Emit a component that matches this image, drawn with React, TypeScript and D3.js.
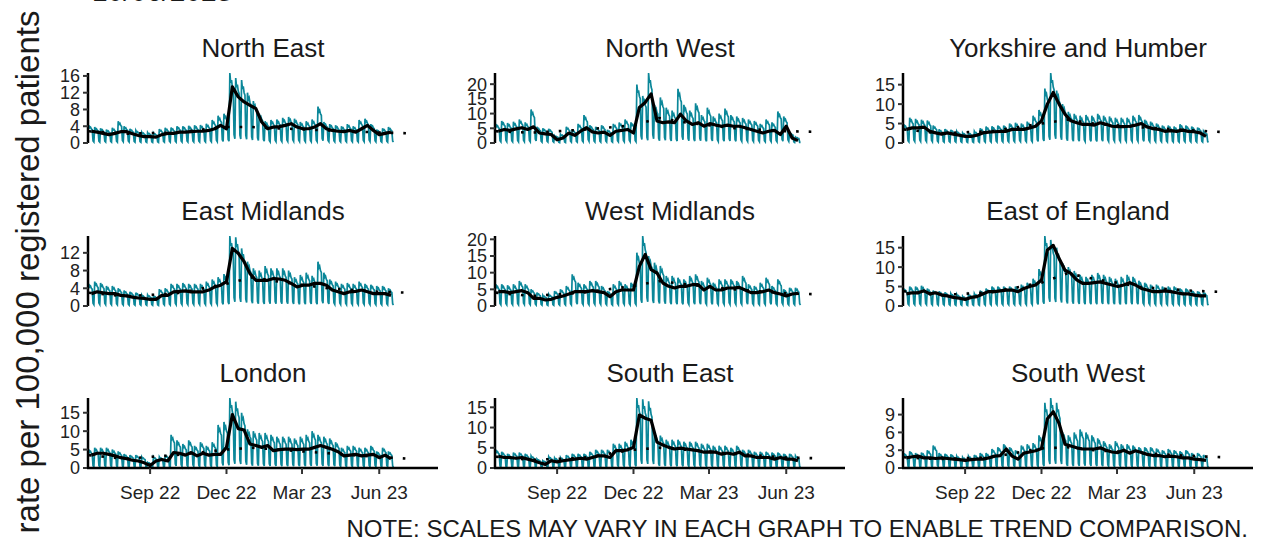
import React from 'react';
import * as d3 from 'd3';

// weekly series, weeks start Monday 20 Jun 2022 (52 weeks)
const REGIONS = [
  'North East', 'North West', 'Yorkshire and Humber',
  'East Midlands', 'West Midlands', 'East of England',
  'London', 'South East', 'South West',
];

// weekday peak of the daily rate per week
const NE_DAILY = [4.2,3.8,3.5,3.2,3.6,5.2,4.0,3.4,3.0,2.6,2.5,2.4,3.3,3.6,3.7,4.0,4.0,4.1,4.2,4.3,4.6,5.5,6.5,7.0,16.7,15.5,15.0,12.0,10.0,7.0,5.2,5.5,5.6,6.0,6.2,5.8,5.0,5.2,5.6,8.7,5.0,4.5,4.2,4.0,4.5,4.0,5.5,5.8,4.5,3.2,3.5,3.8];
const NW_DAILY = [6.5,7.5,6.8,7.2,8.0,7.0,11.4,5.5,5.0,4.8,2.5,3.0,5.5,4.5,6.5,9.5,6.0,5.5,6.0,4.5,6.5,7.0,8.0,7.0,19.9,16.0,23.8,13.0,15.5,12.0,11.0,18.4,13.0,11.0,13.5,9.5,12.0,9.0,10.0,11.7,9.5,9.0,8.5,8.0,7.5,6.5,8.0,7.0,10.7,9.0,3.5,2.0];
const YH_DAILY = [4.8,6.5,6.2,6.0,5.8,4.5,3.5,3.6,3.4,3.0,2.6,2.6,3.0,3.8,4.2,4.3,4.5,4.5,5.0,5.2,5.0,5.5,7.0,8.5,14.0,18.0,13.5,10.0,8.0,7.5,7.0,7.2,7.0,7.5,7.0,6.8,6.5,6.5,6.5,7.0,7.2,6.0,5.5,5.0,4.5,4.5,4.2,4.8,4.5,4.2,4.0,3.0];
const EM_DAILY = [5.0,5.5,5.2,4.5,4.5,4.0,3.5,3.2,3.0,2.5,2.5,2.3,3.8,4.0,5.0,5.0,5.2,5.0,5.0,5.0,5.5,6.0,6.5,7.2,15.8,15.5,13.0,10.0,8.5,8.0,9.0,8.5,8.5,8.5,8.0,6.5,7.0,7.5,6.8,10.0,7.5,6.0,5.5,5.0,5.2,5.0,5.5,5.0,4.8,4.5,4.5,4.0];
const WM_DAILY = [6.5,6.5,6.2,6.5,7.5,6.5,5.0,4.0,3.2,3.5,4.5,5.0,6.0,9.5,7.0,6.5,7.5,7.5,6.0,4.5,6.5,7.5,6.5,7.0,16.0,21.0,15.0,13.0,12.0,9.0,9.0,8.5,8.0,9.0,9.5,7.5,8.5,7.0,8.0,8.0,8.0,7.5,9.0,6.5,6.0,7.0,8.5,6.0,8.0,5.0,5.5,5.5];
const EE_DAILY = [4.5,5.0,5.0,5.2,4.5,4.0,3.8,3.5,3.2,3.0,2.5,3.0,3.2,4.0,4.5,5.0,5.0,5.0,5.0,5.0,5.5,6.0,7.0,9.5,18.0,17.0,15.0,11.0,10.0,9.0,8.0,7.5,8.0,8.5,8.0,7.5,7.0,7.5,8.0,7.5,6.5,6.0,5.5,5.5,5.0,5.0,5.0,4.5,4.5,4.0,3.8,3.5];
const LO_DAILY = [5.0,5.5,5.5,5.5,5.0,4.5,3.8,3.5,3.5,3.0,1.5,3.0,3.0,3.5,9.0,7.5,6.5,7.5,6.0,7.0,6.0,7.0,11.7,12.5,19.0,18.0,15.0,10.5,10.0,9.5,9.5,9.0,8.5,8.5,8.5,8.0,8.5,9.0,10.0,9.0,8.5,8.0,7.0,5.5,6.0,6.0,5.5,5.5,6.0,4.5,5.5,4.5];
const SE_DAILY = [4.5,4.0,3.5,3.8,3.8,3.5,3.0,2.2,1.8,2.8,2.5,2.6,3.2,3.5,3.5,3.5,4.0,4.5,4.5,4.5,6.0,6.0,6.5,7.0,17.3,17.0,16.5,8.5,8.0,7.0,7.0,7.0,6.5,6.5,6.5,6.0,6.0,5.5,5.5,5.5,5.0,5.5,4.5,4.5,4.0,4.0,4.0,3.8,3.8,3.5,3.5,3.0];
const SW_DAILY = [2.5,2.8,2.5,2.6,3.0,3.8,2.5,2.4,2.3,2.0,1.8,2.0,2.2,2.5,2.5,3.2,3.5,4.0,3.5,3.0,3.8,4.0,4.2,5.5,11.0,11.8,11.0,6.0,5.5,6.0,6.5,6.0,5.5,5.0,4.5,4.0,4.5,4.0,4.0,3.8,3.5,3.5,3.5,3.3,3.0,3.2,3.0,2.8,3.0,2.5,2.5,2.2];

// 7 day rolling average, one value per week
const NE_AVG = [2.8,2.6,2.3,2.0,2.3,2.7,2.7,2.2,1.8,1.5,1.5,1.4,2.0,2.3,2.3,2.6,2.6,2.7,2.8,2.8,3.0,3.4,4.2,3.4,13.4,11.0,9.8,9.0,8.2,5.0,3.4,3.8,3.9,4.2,4.6,3.8,3.4,3.4,3.8,4.6,3.4,3.0,2.8,2.7,3.0,2.6,3.4,4.2,3.0,2.0,2.3,2.6];
const NW_AVG = [4.0,4.6,4.3,4.8,5.2,4.6,5.5,3.4,3.1,2.9,1.1,1.7,3.4,2.6,4.0,5.2,3.8,3.4,3.7,2.6,4.0,4.3,4.6,3.4,12.1,13.8,16.7,7.5,6.9,7.2,6.9,9.8,7.5,6.3,6.9,5.7,6.6,6.1,5.7,6.1,5.7,5.7,5.2,4.6,4.0,3.4,4.0,4.3,2.9,5.7,1.7,0.8];
const YH_AVG = [3.5,3.9,3.9,4.1,3.0,2.6,2.3,2.6,2.3,2.0,1.7,1.7,2.0,2.6,2.8,2.9,3.0,3.0,3.5,3.5,3.5,3.9,4.3,5.7,10.0,13.0,10.0,7.4,5.7,5.2,4.8,4.8,4.6,5.2,4.8,4.3,4.2,4.2,4.3,4.6,5.0,4.1,3.7,3.5,3.0,3.2,3.0,3.3,3.0,2.9,2.6,1.7];
const EM_AVG = [2.8,3.2,3.0,2.8,2.8,2.4,2.3,2.0,1.8,1.7,1.5,1.5,2.4,2.4,3.2,3.3,3.4,3.2,3.2,3.2,3.6,4.3,4.7,5.5,13.0,11.9,10.0,7.3,5.8,5.8,5.8,6.2,6.1,5.8,5.1,4.3,4.7,4.7,5.1,5.1,4.7,3.6,3.2,2.8,3.2,3.3,3.6,3.2,2.8,2.8,2.8,2.4];
const WM_AVG = [4.3,4.3,4.0,4.3,4.6,4.0,2.3,2.3,1.8,2.0,2.6,3.0,3.6,4.3,4.3,4.3,4.6,4.3,4.0,2.8,4.3,4.8,4.8,4.8,11.9,15.5,10.9,9.9,6.9,5.9,5.4,5.9,5.9,6.4,6.4,4.8,5.9,4.8,4.8,5.4,5.4,5.6,4.8,4.0,4.0,4.3,4.8,4.0,3.6,3.0,3.6,3.8];
const EE_AVG = [3.1,3.4,3.4,3.9,3.1,3.4,2.8,2.6,2.2,2.0,1.7,2.2,2.4,3.1,3.7,3.7,3.9,4.1,4.1,3.7,4.5,5.0,5.4,6.7,14.4,15.6,12.2,9.2,8.4,6.7,5.8,5.8,6.0,6.2,5.8,5.4,5.0,5.4,6.0,5.4,4.5,4.1,3.7,3.7,3.9,3.7,3.4,3.1,3.1,2.8,2.6,2.6];
const LO_AVG = [3.5,4.0,4.0,3.7,3.3,2.8,2.5,2.1,1.9,1.4,0.7,1.9,2.3,1.9,4.2,4.0,3.5,4.2,3.3,4.0,3.5,3.7,3.7,5.6,14.5,10.7,10.3,6.5,6.1,5.6,6.1,4.7,5.0,5.1,5.1,5.0,5.1,5.1,5.6,6.1,5.6,5.1,4.4,3.3,3.5,3.7,3.3,3.5,3.7,2.8,3.5,2.5];
const SE_AVG = [2.9,2.6,2.6,2.4,2.6,2.2,1.8,1.3,0.9,1.8,1.5,1.8,2.0,2.2,2.4,2.2,2.6,3.0,3.0,2.6,4.3,4.3,4.5,5.1,13.1,12.3,11.8,6.4,5.7,5.1,4.7,4.9,4.7,4.5,4.3,3.9,4.0,3.9,3.4,3.7,3.4,3.9,3.0,3.0,2.6,2.6,2.6,2.2,2.6,2.2,2.2,1.8];
const SW_AVG = [1.7,1.9,2.0,1.7,1.7,1.6,1.7,1.6,1.5,1.4,1.3,1.4,1.5,1.5,1.7,2.0,2.1,3.2,2.0,1.5,2.5,2.7,2.9,3.3,8.3,9.5,7.5,4.0,3.7,3.4,3.2,3.2,3.2,3.4,3.0,2.7,2.6,3.0,2.5,2.9,2.6,2.3,2.1,2.1,1.9,2.0,1.9,1.7,1.7,1.5,1.4,1.3];

// dotted comparison line
const BASE_DATES = ['2022-06-20', '2022-08-01', '2022-10-01', '2022-12-01', '2023-01-01', '2023-02-01', '2023-04-01', '2023-06-01', '2023-07-08'];
const NE_BASE = [2.8, 2.2, 2.5, 3.8, 3.8, 3.5, 3.0, 2.5, 2.3];
const NW_BASE = [4.0, 3.5, 4.5, 6.0, 8.5, 7.0, 5.0, 4.0, 3.8];
const YH_BASE = [3.5, 2.5, 3.0, 5.0, 6.0, 5.0, 4.0, 3.2, 2.8];
const EM_BASE = [3.0, 2.2, 2.8, 5.0, 6.5, 5.5, 4.0, 3.2, 3.0];
const WM_BASE = [4.0, 3.0, 4.0, 6.0, 7.5, 6.5, 5.0, 3.8, 3.5];
const EE_BASE = [3.8, 2.8, 3.5, 6.0, 8.4, 7.0, 4.8, 3.9, 3.6];
const LO_BASE = [3.5, 2.5, 3.5, 5.0, 5.5, 5.0, 4.0, 3.0, 2.5];
const SE_BASE = [2.8, 2.0, 2.5, 4.5, 5.0, 4.5, 3.5, 2.6, 2.4];
const SW_BASE = [1.8, 1.5, 1.8, 3.3, 3.5, 3.0, 2.5, 2.0, 1.8];

// day-of-week shape of the daily counts (Mon..Sun)
const DOW_SHAPE = [1.0, 0.86, 0.9, 0.8, 0.76, 0.12, 0.06];

const Y_TICKS = [
  [0, 4, 8, 12, 16], [0, 5, 10, 15, 20], [0, 5, 10, 15],
  [0, 4, 8, 12], [0, 5, 10, 15, 20], [0, 5, 10, 15],
  [0, 5, 10, 15], [0, 5, 10, 15], [0, 3, 6, 9],
];
const X_TICKS = ['2022-09-01', '2022-12-01', '2023-03-01', '2023-06-01'];
const X_TICK_LABELS = ['Sep 22', 'Dec 22', 'Mar 23', 'Jun 23'];

const DAILY = [NE_DAILY, NW_DAILY, YH_DAILY, EM_DAILY, WM_DAILY, EE_DAILY, LO_DAILY, SE_DAILY, SW_DAILY];
const AVG = [NE_AVG, NW_AVG, YH_AVG, EM_AVG, WM_AVG, EE_AVG, LO_AVG, SE_AVG, SW_AVG];
const BASE = [NE_BASE, NW_BASE, YH_BASE, EM_BASE, WM_BASE, EE_BASE, LO_BASE, SE_BASE, SW_BASE];

const FONT = 'Liberation Sans, Arial, sans-serif';
const TEAL = '#0b8799';
const COL_X = [88, 495, 903];
const ROW_ZERO = [143, 306, 468];
const PANEL_W = 350;
const PANEL_H = 70;

const parse = d3.utcParse('%Y-%m-%d');
const START = parse('2022-06-20') as Date;

const x = d3.scaleUtc()
  .domain([parse('2022-06-19') as Date, parse('2023-08-10') as Date])
  .range([0, PANEL_W]);

const Panel = ({ i }: { i: number }) => {
  const col = i % 3;
  const row = Math.floor(i / 3);
  const left = COL_X[col];
  const zero = ROW_ZERO[row];
  const daily = DAILY[i];
  const avg = AVG[i];
  const base = BASE[i];

  const y = d3.scaleLinear()
    .domain([0, d3.max(daily) as number])
    .range([zero, zero - PANEL_H]);

  const dailyPts: [Date, number][] = [];
  daily.forEach((v, w) => {
    DOW_SHAPE.forEach((s, d) => {
      dailyPts.push([d3.utcDay.offset(START, w * 7 + d), v * s]);
    });
  });
  const avgPts: [Date, number][] = avg.map((v, w) => [d3.utcDay.offset(START, w * 7 + 3), v]);
  const basePts: [Date, number][] = base.map((v, k) => [parse(BASE_DATES[k]) as Date, v]);

  const line = d3.line<[Date, number]>()
    .x(d => left + x(d[0]))
    .y(d => y(d[1]));

  return (
    <g>
      <text x={left + PANEL_W / 2} y={zero - 86} textAnchor="middle"
        fontSize={26} fill="#1a1a1a" fontFamily={FONT}>{REGIONS[i]}</text>
      <path d={line(dailyPts) || ''} fill="none" stroke={TEAL} strokeWidth={1.7} />
      <path d={line(basePts) || ''} fill="none" stroke="#000" strokeWidth={2.6}
        strokeDasharray="2.6 10" />
      <path d={line(avgPts) || ''} fill="none" stroke="#000" strokeWidth={3.2}
        strokeLinejoin="round" />
      <line x1={left} x2={left} y1={zero} y2={zero - PANEL_H} stroke="#000" strokeWidth={2.5} />
      {Y_TICKS[i].map(t => (
        <g key={t}>
          <line x1={left - 5} x2={left} y1={y(t)} y2={y(t)} stroke="#333" strokeWidth={2} />
          <text x={left - 8} y={y(t)} dy="0.36em" textAnchor="end" fontSize={18}
            fill="#222" fontFamily={FONT}>{t}</text>
        </g>
      ))}
      {row === 2 && (
        <g>
          <line x1={left - 1} x2={left + PANEL_W} y1={zero} y2={zero} stroke="#000" strokeWidth={2.5} />
          {X_TICKS.map((t, k) => {
            const px = left + x(parse(t) as Date);
            return (
              <g key={t}>
                <line x1={px} x2={px} y1={zero} y2={zero + 6} stroke="#333" strokeWidth={2} />
                <text x={px} y={zero + 31} textAnchor="middle" fontSize={19}
                  fill="#222" fontFamily={FONT}>{X_TICK_LABELS[k]}</text>
              </g>
            );
          })}
        </g>
      )}
    </g>
  );
};

export default function App() {
  return (
    <svg width={1264} height={538}
      style={{ position: 'absolute', left: 0, top: 0, background: '#fff' }}>
      <text x={92} y={1} fontSize={28} fill="#1a1a1a" fontFamily={FONT}>10/06/2023</text>
      <text transform="translate(39,272) rotate(-90)" textAnchor="middle" fontSize={33}
        fill="#1a1a1a" fontFamily={FONT}>rate per 100,000 registered patients</text>
      {REGIONS.map((_, i) => <Panel key={i} i={i} />)}
      <text x={1248} y={537} textAnchor="end" fontSize={24} fill="#1a1a1a"
        fontFamily={FONT}>NOTE: SCALES MAY VARY IN EACH GRAPH TO ENABLE TREND COMPARISON.</text>
    </svg>
  );
}
